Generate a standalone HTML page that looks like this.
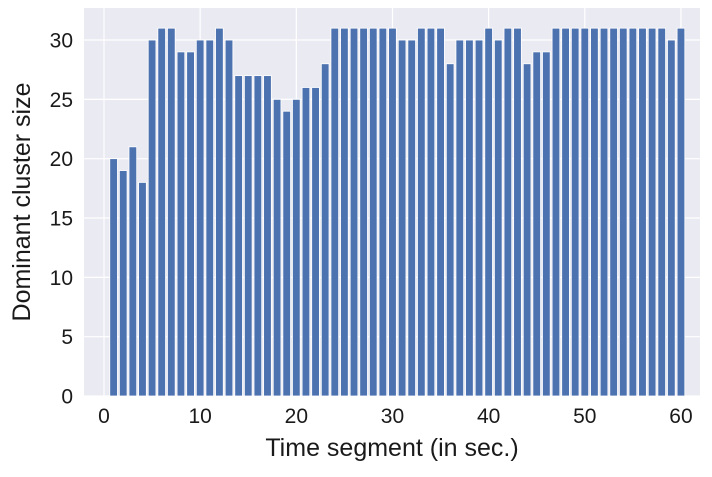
<!DOCTYPE html>
<html><head><meta charset="utf-8"><style>
body{margin:0;background:#fff;font-family:"Liberation Sans",sans-serif;}
</style></head><body>
<svg id="chart" width="712" height="472" xmlns="http://www.w3.org/2000/svg"></svg>
<script>
const segments = [];
for (let i = 1; i <= 60; i++) segments.push(i);
const clusterSizes = [20,19,21,18,30,31,31,29,29,30,30,31,30,27,27,27,27,25,24,25,26,26,28,31,31,31,31,31,31,31,30,30,31,31,31,28,30,30,30,31,30,31,31,28,29,29,31,31,31,31,31,31,31,31,31,31,31,31,30,31];
const xTicks = [0,10,20,30,40,50,60];
const yTicks = [0,5,10,15,20,25,30];

const L=84,R=700,T=8,B=396;
const xMin=-2.08,xMax=61.98,yMin=0,yMax=32.7;
const sx=v=>L+(v-xMin)/(xMax-xMin)*(R-L);
const sy=v=>B-(v-yMin)/(yMax-yMin)*(B-T);
const svg=document.getElementById('chart');
const NS='http://www.w3.org/2000/svg';
function mk(tag,attrs){const e=document.createElementNS(NS,tag);for(const k in attrs)e.setAttribute(k,attrs[k]);svg.appendChild(e);return e;}

const bg=mk('rect',{x:L,y:T,width:R-L,height:B-T,fill:'#eaeaf2'});



xTicks.forEach(t=>{
  const g=mk('line',{x1:sx(t),x2:sx(t),y1:T,y2:B,stroke:'#fff','stroke-width':1.2});
  
  
  const tx=mk('text',{x:sx(t),y:B+27,'text-anchor':'middle','font-size':21,fill:'#1a1a1a'});
  tx.textContent=t;
  
  
});
yTicks.forEach(t=>{
  const g=mk('line',{x1:L,x2:R,y1:sy(t),y2:sy(t),stroke:'#fff','stroke-width':1.2});
  
  
  const tx=mk('text',{x:L-11,y:sy(t)+7.5,'text-anchor':'end','font-size':21,fill:'#1a1a1a'});
  tx.textContent=t;
  
  
});

segments.forEach((s,i)=>{
  const v=clusterSizes[i];
  const x0=sx(s-0.4),x1=sx(s+0.4);
  const r=mk('rect',{x:x0,y:sy(v),width:x1-x0,height:sy(0)-sy(v),fill:'#4c72b0',stroke:'#fff','stroke-width':0.8});
  
  
});

const xl=mk('text',{x:(L+R)/2,y:456,'text-anchor':'middle','font-size':25,fill:'#1a1a1a'});
xl.textContent='Time segment (in sec.)';


const yl=mk('text',{x:0,y:0,'text-anchor':'middle','font-size':25,fill:'#1a1a1a',transform:`translate(30,${(T+B)/2}) rotate(-90)`});
yl.textContent='Dominant cluster size';


</script>
</body></html>
